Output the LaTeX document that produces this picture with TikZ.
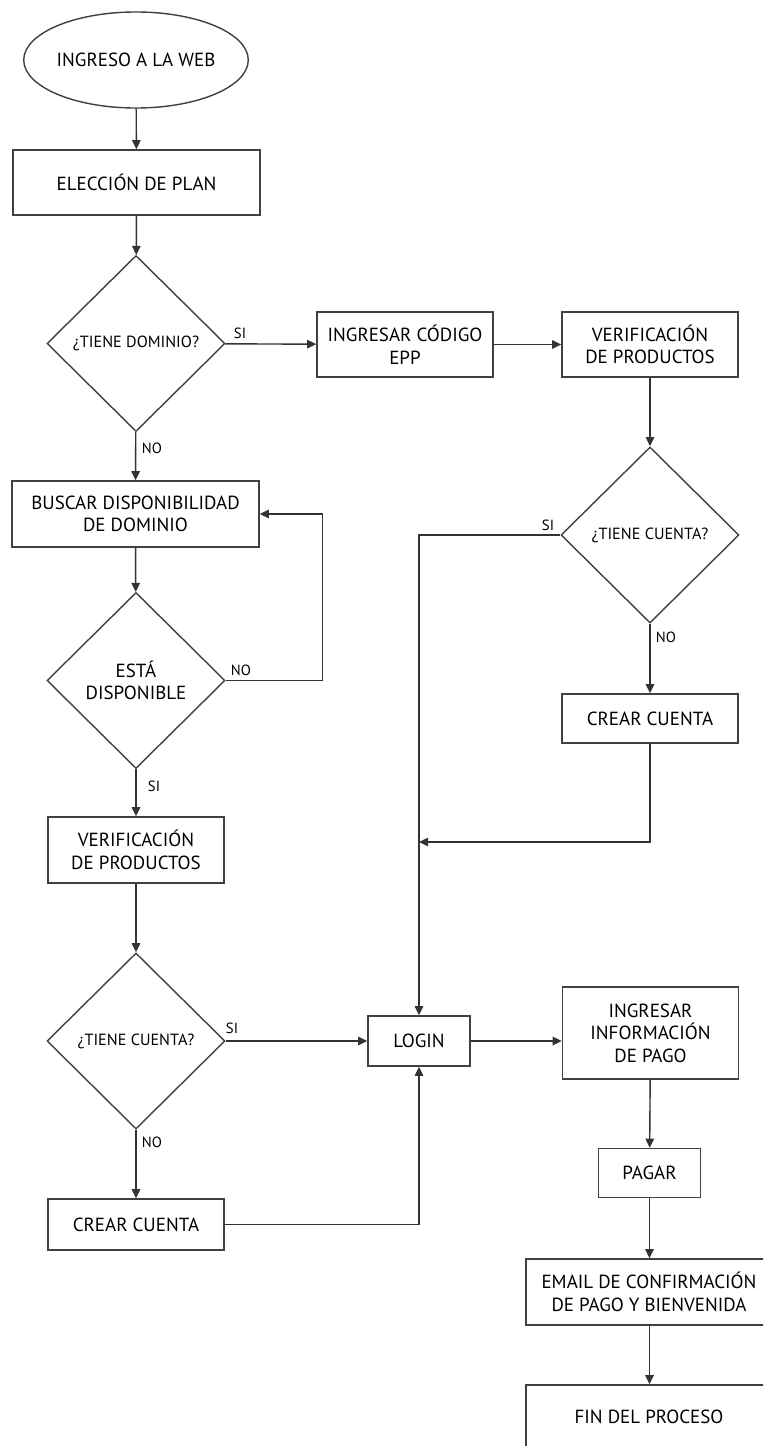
\documentclass[tikz,border=0pt]{standalone}
\usepackage{fontspec}
\setmainfont{PT Sans}
\usetikzlibrary{shapes.geometric,arrows.meta}
\begin{document}
\begin{tikzpicture}[x=0.025cm,y=-0.025cm,
		caja/.style={draw=black!75,line width=1pt,rectangle,align=center,inner sep=0,text=black,font=\fontsize{13.5}{16}\selectfont},
		rombo/.style={draw=black!75,line width=1pt,diamond,inner sep=0,align=center,text=black,minimum width=4.45cm,minimum height=4.4cm,font=\fontsize{11.5}{14}\selectfont},
		etiq/.style={inner sep=0,text=black,font=\fontsize{10.5}{12}\selectfont},
		flecha/.style={draw=black!80,line width=1pt,-{Triangle[width=6pt,length=6.5pt]}}]
		\useasboundingbox (0,0) rectangle (763,1446);
		\clip (0,0) rectangle (763,1446);
		\node[caja,ellipse,minimum width=5.55cm,minimum height=2.4cm] (ini) at (136,60) {INGRESO A LA WEB};
		\node[caja,minimum width=6.175cm,minimum height=1.625cm] (plan) at (136.5,182.5) {ELECCIÓN DE PLAN};
		\node[rombo] (dom) at (136,343.5) {¿TIENE DOMINIO?};
		\node[caja,minimum width=4.4cm,minimum height=1.625cm] (epp) at (405,344.5) {INGRESAR CÓDIGO\\EPP};
		\node[caja,minimum width=4.4cm,minimum height=1.625cm] (ver1) at (650,344.5) {VERIFICACIÓN\\DE PRODUCTOS};
		\node[rombo] (cta1) at (650,535) {¿TIENE CUENTA?};
		\node[caja,minimum width=4.4cm,minimum height=1.225cm] (crea1) at (650,718.5) {CREAR CUENTA};
		\node[caja,minimum width=6.175cm,minimum height=1.65cm] (busca) at (135.5,514) {BUSCAR DISPONIBILIDAD\\DE DOMINIO};
		\node[rombo,font=\fontsize{13.5}{16}\selectfont] (disp) at (136,680.5) {ESTÁ\\DISPONIBLE};
		\node[caja,minimum width=4.4cm,minimum height=1.65cm] (ver2) at (136,850) {VERIFICACIÓN\\DE PRODUCTOS};
		\node[rombo] (cta2) at (136,1041) {¿TIENE CUENTA?};
		\node[caja,minimum width=2.55cm,minimum height=1.25cm] (login) at (419,1041) {LOGIN};
		\node[caja,minimum width=4.4cm,minimum height=2.3cm] (info) at (650.5,1033) {INGRESAR\\INFORMACIÓN\\DE PAGO};
		\node[caja,minimum width=2.55cm,minimum height=1.225cm] (pagar) at (649.5,1173) {PAGAR};
		\node[caja,minimum width=4.4cm,minimum height=1.275cm] (crea2) at (136,1224.5) {CREAR CUENTA};
		\node[caja,minimum width=6.15cm,minimum height=1.65cm] (email) at (649,1292) {EMAIL DE CONFIRMACIÓN\\DE PAGO Y BIENVENIDA};
		\node[caja,minimum width=6.15cm,minimum height=1.6cm] (fin) at (649,1417) {FIN DEL PROCESO};
		\coordinate (junta) at (419,842);
		\node[etiq] (si1) at (240,333) {SI};
		\node[etiq] (no1) at (152,448) {NO};
		\node[etiq] (no2) at (241,670) {NO};
		\node[etiq] (si2) at (154,786) {SI};
		\node[etiq] (si3) at (548,525) {SI};
		\node[etiq] (no3) at (666,637) {NO};
		\node[etiq] (si4) at (232,1028) {SI};
		\node[etiq] (no4) at (152,1142) {NO};
		\draw[flecha] (ini) -- (plan);
		\draw[flecha] (plan) -- (dom);
		\draw[flecha] (dom) -- (epp);
		\draw[flecha] (epp) -- (ver1);
		\draw[flecha] (ver1) -- (cta1);
		\draw[flecha] (cta1) -- (crea1);
		\draw[flecha] (cta1.west) -| (login.north);
		\draw[flecha] (crea1.south) |- (junta);
		\draw[flecha] (dom) -- (busca);
		\draw[flecha] (busca) -- (disp);
		\draw[flecha] (disp.east) -- ++(97,0) |- (busca.east);
		\draw[flecha] (disp) -- (ver2);
		\draw[flecha] (ver2) -- (cta2);
		\draw[flecha] (cta2) -- (login);
		\draw[flecha] (cta2) -- (crea2);
		\draw[flecha] (crea2.east) -| (login.south);
		\draw[flecha] (login) -- (info.west |- login);
		\draw[flecha] (info) -- (pagar);
		\draw[flecha] (pagar) -- (pagar |- email.north);
		\draw[flecha] (pagar |- email.south) -- (pagar |- fin.north);
\end{tikzpicture}
\end{document}
